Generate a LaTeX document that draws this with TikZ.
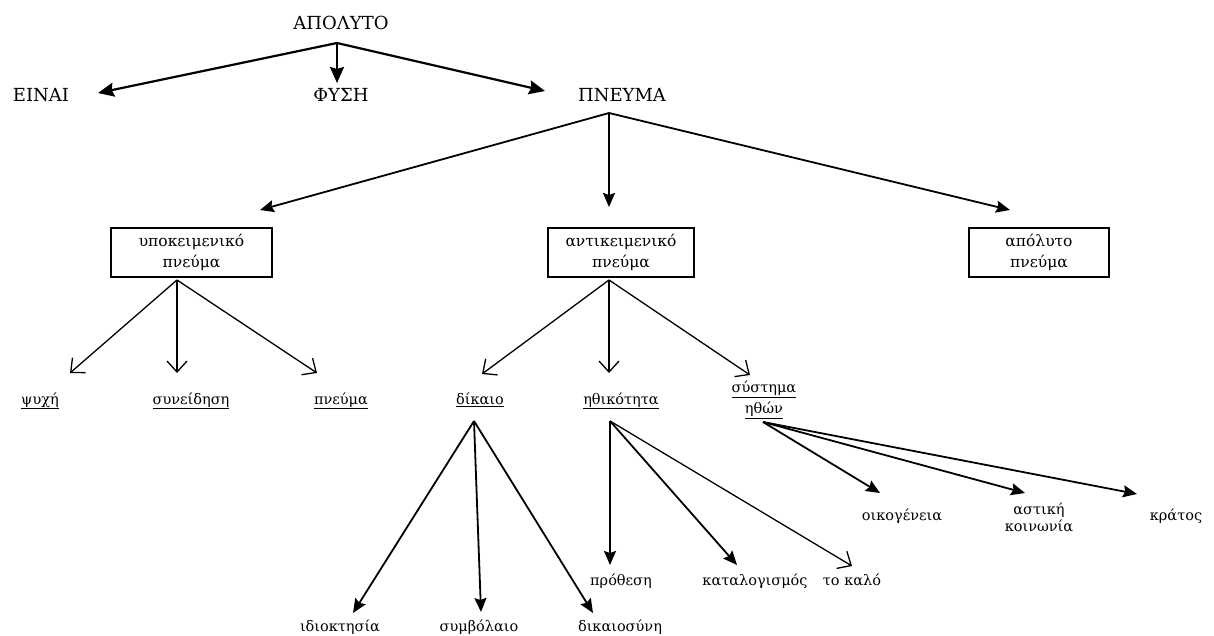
\documentclass[tikz,border=0pt]{standalone}
\usepackage{fontspec}
\setmainfont{DejaVu Serif}
\newfontfamily\grserif{DejaVu Serif}
\usetikzlibrary{arrows.meta}
\begin{document}
\begin{tikzpicture}[x=1pt,y=-1pt,
  caps/.style={inner sep=0pt, anchor=base, font=\grserif\fontsize{18}{22}\selectfont},
  lbl/.style={inner sep=0pt, anchor=base, font=\grserif\fontsize{14.5}{19}\selectfont},
  two/.style={inner sep=0pt, align=center, font=\grserif\fontsize{14.5}{21}\selectfont},
  box/.style={draw, line width=1.5pt, inner sep=0pt, align=center, minimum height=49pt, font=\grserif\fontsize{15.5}{21}\selectfont},
  heavy/.style={line width=2.2pt, -{Stealth[length=16pt,width=14pt,inset=2pt]}},
  mid/.style={line width=1.8pt, -{Stealth[length=14pt,width=12pt,inset=2pt]}},
  light/.style={line width=1.3pt, -{Straight Barb[length=11pt,width=20pt]}}]
\useasboundingbox (0,0) rectangle (1214,636);

% text nodes
\node[caps] (A) at (341,30) {ΑΠΟΛΥΤΟ};
\node[caps] (E) at (41,102) {ΕΙΝΑΙ};
\node[caps] (F) at (341,102) {ΦΥΣΗ};
\node[caps] (P) at (622,102) {ΠΝΕΥΜΑ};

\node[box, minimum width=161pt] (U) at (191.5,252.5) {υποκειμενικό\\πνεύμα};
\node[box, minimum width=146pt] (O) at (621,252.5) {αντικειμενικό\\πνεύμα};
\node[box, minimum width=140pt] (Ab) at (1039,252.5) {απόλυτο\\πνεύμα};

\node[lbl] (psy) at (40,404) {\underline{ψυχή}};
\node[lbl] (syn) at (191,404) {\underline{συνείδηση}};
\node[lbl] (pne) at (341,404) {\underline{πνεύμα}};

\node[lbl] (dik) at (480,404) {\underline{δίκαιο}};
\node[lbl] (ith) at (621,404) {\underline{ηθικότητα}};
\node[two] (sys) at (764,400) {\underline{σύστημα}\\\underline{ηθών}};

\node[lbl] (idi) at (340,631) {ιδιοκτησία};
\node[lbl] (sym) at (479,631) {συμβόλαιο};
\node[lbl] (dikos) at (620,631) {δικαιοσύνη};

\node[lbl] (pro) at (621,585) {πρόθεση};
\node[lbl] (kat) at (755,585) {καταλογισμός};
\node[lbl] (kal) at (852,585) {το καλό};

\node[lbl] (oik) at (902,520) {οικογένεια};
\node[two, font=\grserif\fontsize{14.5}{17}\selectfont] (ast) at (1039,517) {αστική\\κοινωνία};
\node[lbl] (kra) at (1176,520) {κράτος};

% connector points
\coordinate (jA) at (337,43);
\coordinate (tE) at (98,93);
\coordinate (tF) at (337,83);
\coordinate (tP) at (545,91);

\coordinate (jP) at (609,113);
\coordinate (tU) at (260,210);
\coordinate (tO) at (609,207);
\coordinate (tAb) at (1010,210);

\coordinate (jU) at (177,280);
\coordinate (tpsy) at (70,373);
\coordinate (tsyn) at (177,373);
\coordinate (tpne) at (317,373);

\coordinate (jO) at (609,280);
\coordinate (tdik) at (482,374);
\coordinate (tith) at (609,373);
\coordinate (tsys) at (750,375);

\coordinate (jD) at (474,421);
\coordinate (tidi) at (353,613);
\coordinate (tsym) at (481,612);
\coordinate (tdikos) at (593,613);

\coordinate (jH) at (610,421);
\coordinate (tpro) at (610,565);
\coordinate (tkat) at (737,565);
\coordinate (tkal) at (852,566);

\coordinate (jS) at (763,422);
\coordinate (toik) at (880,493);
\coordinate (tast) at (1025,493);
\coordinate (tkra) at (1137,494);

% connectors
\draw[heavy] (jA) -- (tE);
\draw[heavy] (jA) -- (tF);
\draw[heavy] (jA) -- (tP);

\draw[mid] (jP) -- (tU);
\draw[mid] (jP) -- (tO);
\draw[mid] (jP) -- (tAb);

\draw[light] (jU) -- (tpsy);
\draw[light] (jU) -- (tsyn);
\draw[light] (jU) -- (tpne);

\draw[light] (jO) -- (tdik);
\draw[light] (jO) -- (tith);
\draw[light] (jO) -- (tsys);

\draw[mid] (jD) -- (tidi);
\draw[mid] (jD) -- (tsym);
\draw[mid] (jD) -- (tdikos);

\draw[mid] (jH) -- (tpro);
\draw[mid] (jH) -- (tkat);
\draw[light] (jH) -- (tkal);

\draw[mid] (jS) -- (toik);
\draw[mid] (jS) -- (tast);
\draw[mid] (jS) -- (tkra);
\end{tikzpicture}
\end{document}
